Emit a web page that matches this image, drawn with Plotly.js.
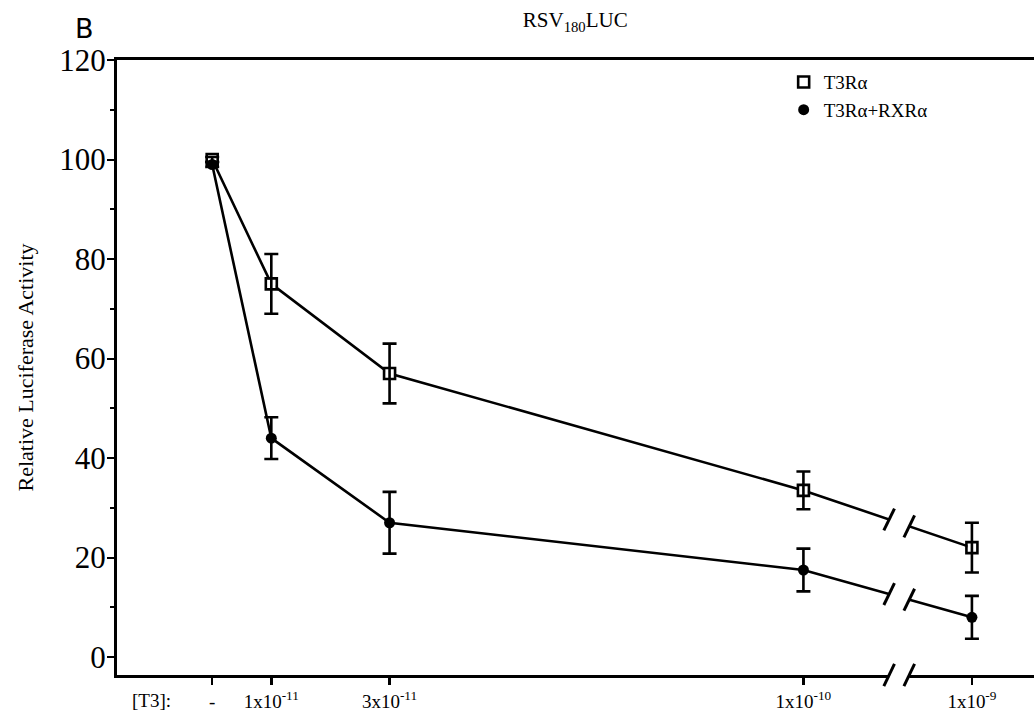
<!DOCTYPE html>
<html>
<head>
<meta charset="utf-8">
<script src="https://cdn.plot.ly/plotly-3.0.1.min.js"></script>
<style>html,body{margin:0;padding:0;background:#fff;}#chart{width:1034px;height:717px;}</style>
</head>
<body>
<div id="chart"></div>
<script>
// ---- data ----
const tickLabels = ['-', '1x10<sup>-11</sup>', '3x10<sup>-11</sup>', '1x10<sup>-10</sup>', '1x10<sup>-9</sup>'];
const xPos = [0, 1, 3, 10, 12.85];           // axis positions of the T3 doses (broken axis)
const breakPos = 11.62;                       // position of the axis break
const seriesNames = ['T3R\u03b1', 'T3R\u03b1+RXR\u03b1'];
const t3rVals = [100, 75, 57, 33.5, 22];
const t3rErr  = [0.5, 6, 6, 3.8, 5];
const rxrVals = [99, 44, 27, 17.5, 8];
const rxrErr  = [0.5, 4.2, 6.2, 4.3, 4.3];

const LW = 2.6;
const serif = 'Liberation Serif, Times New Roman, serif';

function lineTrace(y) {
  return {x: xPos, y: y, mode: 'lines', line: {color: '#000', width: LW}, showlegend: false, hoverinfo: 'skip'};
}
function markTrace(y, err, name, symbol) {
  return {
    x: xPos, y: y, name: name, mode: 'markers',
    marker: {symbol: symbol, size: 11, color: '#000', line: {color: '#000', width: symbol === 'square-open' ? 2.6 : 0}},
    error_y: {type: 'data', array: err, visible: true, color: '#000', thickness: 2.6, width: 7}
  };
}
const traces = [
  lineTrace(t3rVals), lineTrace(rxrVals),
  {x: xPos, y: t3rVals, mode: 'markers', marker: {symbol: 'square', size: 9, color: '#fff'}, showlegend: false, hoverinfo: 'skip'},
  markTrace(t3rVals, t3rErr, seriesNames[0], 'square-open'),
  markTrace(rxrVals, rxrErr, seriesNames[1], 'circle')
];

// break marks computed from the data
function interp(vals, xb) {
  const x0 = xPos[3], x1 = xPos[4];
  return vals[3] + (vals[4] - vals[3]) * (xb - x0) / (x1 - x0);
}
const shapes = [];
const gap = 0.17, sdx = 0.09, sdy = 2.2;
[t3rVals, rxrVals].forEach(v => {
  const ya = interp(v, breakPos - gap), yb = interp(v, breakPos + gap);
  shapes.push({type: 'line', xref: 'x', yref: 'y', x0: breakPos - gap, x1: breakPos + gap, y0: ya, y1: yb, line: {color: '#fff', width: 6}, layer: 'above'});
  [[breakPos - gap, ya], [breakPos + gap, yb]].forEach(p => {
    shapes.push({type: 'line', xref: 'x', yref: 'y', x0: p[0] - sdx, x1: p[0] + sdx, y0: p[1] - sdy, y1: p[1] + sdy, line: {color: '#000', width: 3}, layer: 'above'});
  });
});
// axis break
shapes.push({type: 'line', xref: 'x', yref: 'paper', x0: breakPos - gap, x1: breakPos + gap, y0: 0, y1: 0, line: {color: '#fff', width: 6}, layer: 'above'});
[breakPos - gap, breakPos + gap].forEach(xb => {
  shapes.push({type: 'line', xref: 'x', yref: 'paper', x0: xb - sdx, x1: xb + sdx, y0: -0.018, y1: 0.018, line: {color: '#000', width: 3}, layer: 'above'});
});

const layout = {
  width: 1034, height: 717,
  margin: {l: 117, r: 0, t: 60, b: 42},
  paper_bgcolor: '#fff', plot_bgcolor: '#fff',
  font: {family: serif, color: '#000'},
  title: {text: 'RSV<sub>180</sub>LUC', font: {family: serif, size: 21, color: '#000'}, x: 0.5563, xanchor: 'center', y: 0.972, yanchor: 'middle'},
  showlegend: true,
  legend: {x: 0.727, xanchor: 'left', y: 0.995, yanchor: 'top', font: {family: serif, size: 19}, bgcolor: 'rgba(0,0,0,0)', itemwidth: 30, tracegroupgap: 0},
  xaxis: {
    range: [-1.61, 13.9], showgrid: false, zeroline: false,
    showline: true, linecolor: '#000', linewidth: 3, mirror: true,
    tickmode: 'array', tickvals: xPos, ticktext: tickLabels,
    ticks: 'outside', ticklen: 7, tickwidth: 2.5, tickcolor: '#000',
    tickfont: {family: serif, size: 19}
  },
  yaxis: {
    range: [-3.6, 120], showgrid: false, zeroline: false,
    showline: true, linecolor: '#000', linewidth: 3,
    tickmode: 'array', tickvals: [0, 20, 40, 60, 80, 100, 120],
    ticks: 'outside', ticklen: 7, tickwidth: 2, tickcolor: '#000',
    ticklabelstandoff: -5,
    minor: {tickvals: [10, 30, 50, 70, 90, 110], ticks: 'outside', ticklen: 4, tickwidth: 2, tickcolor: '#000'},
    tickfont: {family: serif, size: 31},
    title: {text: 'Relative Luciferase Activity', font: {family: serif, size: 22}, standoff: 20}
  },
  shapes: shapes,
  annotations: [
    {text: 'B', xref: 'paper', yref: 'paper', x: -0.035, y: 1.052, xanchor: 'center', yanchor: 'middle', showarrow: false, font: {family: 'DejaVu Sans, sans-serif', size: 27, color: '#000'}},
    {text: '[T3]:', xref: 'paper', yref: 'paper', x: 0.038, y: -0.042, xanchor: 'center', yanchor: 'middle', showarrow: false, font: {family: serif, size: 19, color: '#000'}}
  ]
};

Plotly.newPlot('chart', traces, layout, {displayModeBar: false, staticPlot: true});
</script>
</body>
</html>
